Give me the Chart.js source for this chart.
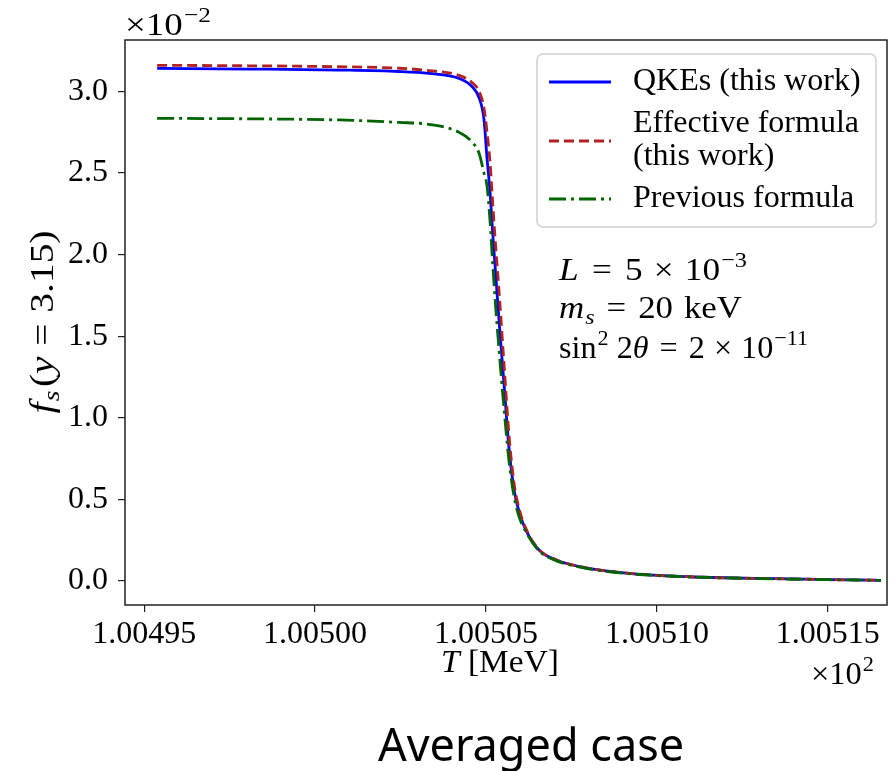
<!DOCTYPE html>
<html>
<head>
<meta charset="utf-8">
<script src="https://cdn.jsdelivr.net/npm/chart.js@4.4.1/dist/chart.umd.min.js"></script>
<style>
  body { margin: 0; background: #fff; }
  canvas { display: block; }
</style>
</head>
<body>
<canvas id="fsChart" width="894" height="771"></canvas>
<script>
// temperature T (in units of 10^2 MeV)
const temps = [
  1.0049538, 1.0049807, 1.0050070, 1.0050246, 1.0050333, 1.0050421,
  1.0050459, 1.0050480, 1.0050494, 1.0050503, 1.0050512, 1.0050520,
  1.0050529, 1.0050538, 1.0050553, 1.0050567, 1.0050582, 1.0050596,
  1.0050617, 1.0050655, 1.0050705, 1.0050801, 1.0050918, 1.0051094,
  1.0051298, 1.0051503, 1.0051655
];
// f_s(y = 3.15) in units of 10^-2
const qkes = [
  3.141, 3.137, 3.131, 3.122, 3.110, 3.080,
  3.030, 2.960, 2.830, 2.590, 2.380, 2.120,
  1.860, 1.600, 1.200, 0.820, 0.560, 0.430,
  0.310, 0.190, 0.129, 0.078, 0.047, 0.026,
  0.016, 0.009, 0.004
];
const effective = [
  3.160, 3.157, 3.151, 3.142, 3.128, 3.098,
  3.055, 3.000, 2.900, 2.750, 2.560, 2.300,
  2.030, 1.780, 1.320, 0.900, 0.600, 0.450,
  0.320, 0.192, 0.130, 0.078, 0.047, 0.026,
  0.016, 0.009, 0.004
];
const previous = [
  2.835, 2.832, 2.825, 2.810, 2.798, 2.750,
  2.690, 2.620, 2.500, 2.420, 2.200, 1.930,
  1.660, 1.420, 1.050, 0.740, 0.520, 0.400,
  0.300, 0.185, 0.125, 0.075, 0.045, 0.025,
  0.015, 0.008, 0.004
];
const xTicks = [1.00495, 1.00500, 1.00505, 1.00510, 1.00515];
const yTicks = [0.0, 0.5, 1.0, 1.5, 2.0, 2.5, 3.0];

const serif = '"Liberation Serif", "DejaVu Serif", serif';

function pts(ys) {
  return temps.map((t, i) => ({ x: t, y: ys[i] }));
}

// parts: [text, italic, size, dy, gapBefore]
function setFont(ctx, p) {
  ctx.font = (p[1] ? 'italic ' : '') + (p[2] || 32) + 'px ' + serif;
}
function richWidth(ctx, parts) {
  let w = 0;
  parts.forEach(p => { setFont(ctx, p); w += (p[4] || 0) + ctx.measureText(p[0]).width; });
  return w;
}
// draw a row of text pieces, stretched to width w if given; align 'left' | 'center' | 'right'
function rich(ctx, x, y, parts, w, align) {
  const nat = richWidth(ctx, parts);
  const sx = w ? w / nat : 1;
  const full = nat * sx;
  const x0 = align === 'center' ? x - full / 2 : align === 'right' ? x - full : x;
  ctx.save();
  ctx.translate(x0, y);
  ctx.scale(sx, 1);
  ctx.textAlign = 'left';
  ctx.textBaseline = 'alphabetic';
  let cx = 0;
  parts.forEach(p => {
    setFont(ctx, p);
    cx += p[4] || 0;
    ctx.fillText(p[0], cx, p[3] || 0);
    cx += ctx.measureText(p[0]).width;
  });
  ctx.restore();
}

const extras = {
  id: 'extras',
  afterDraw(chart) {
    const ctx = chart.ctx;
    const a = chart.chartArea;
    ctx.save();
    // frame
    ctx.strokeStyle = '#222';
    ctx.lineWidth = 1.5;
    ctx.strokeRect(a.left, a.top, a.right - a.left, a.bottom - a.top);

    ctx.fillStyle = '#000';

    // offset labels
    rich(ctx, 125, 35, [['×10'], ['−2', 0, 22, -13, 1]], 86, 'left');
    rich(ctx, 874, 684, [['×10'], ['2', 0, 22, -13, 1]], 63, 'right');

    // x title
    rich(ctx, 500, 672, [['T', 1], ['[MeV]', 0, 32, 0, 8]], 118, 'center');

    // y title
    ctx.save();
    ctx.translate(53, 322);
    ctx.rotate(-Math.PI / 2);
    rich(ctx, 0, 0, [['f', 1, 33], ['s', 1, 23, 6, 1], ['(', 0, 33, 0, 3], ['y', 1, 33],
      ['=', 0, 33, 0, 9], ['3.15)', 0, 33, 0, 9]], 183, 'center');
    ctx.restore();

    // parameters
    rich(ctx, 559, 280, [['L', 1], ['=', 0, 32, 0, 12], ['5', 0, 32, 0, 12], ['×', 0, 32, 0, 10],
      ['10', 0, 32, 0, 10], ['−3', 0, 22, -13, 1]], 188, 'left');
    rich(ctx, 559, 318, [['m', 1], ['s', 1, 22, 6, 1], ['=', 0, 32, 0, 11], ['20', 0, 32, 0, 11],
      ['keV', 0, 32, 0, 10]], 183, 'left');
    rich(ctx, 559, 358, [['sin'], ['2', 0, 22, -13, 1], ['2', 0, 32, 0, 8], ['θ', 1],
      ['=', 0, 32, 0, 11], ['2', 0, 32, 0, 11], ['×', 0, 32, 0, 9], ['10', 0, 32, 0, 9],
      ['−11', 0, 22, -13, 1]], 249, 'left');

    // legend
    ctx.beginPath();
    ctx.roundRect(537, 54, 339, 173, 6);
    ctx.fillStyle = 'rgba(255,255,255,0.8)';
    ctx.fill();
    ctx.strokeStyle = '#d0d0d0';
    ctx.lineWidth = 1.5;
    ctx.stroke();
    const rows = [
      { ds: 0, ly: 82, lines: [['QKEs (this work)', 82]] },
      { ds: 1, ly: 141, lines: [['Effective formula', 124], ['(this work)', 157]] },
      { ds: 2, ly: 199, lines: [['Previous formula', 199]] }
    ];
    rows.forEach(r => {
      const d = chart.data.datasets[r.ds];
      ctx.beginPath();
      ctx.setLineDash(d.borderDash || []);
      ctx.strokeStyle = d.borderColor;
      ctx.lineWidth = d.borderWidth;
      ctx.moveTo(549, r.ly);
      ctx.lineTo(611, r.ly);
      ctx.stroke();
      ctx.setLineDash([]);
      ctx.fillStyle = '#000';
      ctx.font = '32px ' + serif;
      ctx.textAlign = 'left';
      ctx.textBaseline = 'middle';
      r.lines.forEach(l => ctx.fillText(l[0], 633, l[1]));
    });

    // caption
    ctx.font = '45px "Noto Sans", sans-serif';
    ctx.textBaseline = 'alphabetic';
    ctx.textAlign = 'center';
    ctx.fillText('Averaged case', 531, 761);
    ctx.restore();
  }
};

new Chart(document.getElementById('fsChart'), {
  type: 'line',
  data: {
    datasets: [
      { label: 'QKEs (this work)', data: pts(qkes), borderColor: '#0000ff',
        borderWidth: 2.8, order: 3 },
      { label: 'Effective formula (this work)', data: pts(effective), borderColor: '#b22222',
        borderWidth: 2.8, borderDash: [10, 5], order: 2 },
      { label: 'Previous formula', data: pts(previous), borderColor: '#006400',
        borderWidth: 2.8, borderDash: [17, 5, 3, 5], order: 1 }
    ]
  },
  options: {
    responsive: false,
    animation: false,
    layout: { padding: { top: 40, right: 7, left: 0, bottom: 0 } },
    elements: {
      point: { radius: 0 },
      line: { cubicInterpolationMode: 'monotone', fill: false }
    },
    plugins: { legend: { display: false }, tooltip: { enabled: false } },
    scales: {
      x: {
        type: 'linear',
        min: 1.0049444,
        max: 1.0051673,
        afterBuildTicks: s => { s.ticks = xTicks.map(v => ({ value: v })); },
        afterFit: s => { s.height = 166; },
        grid: { drawOnChartArea: false, tickLength: 7, color: '#222', lineWidth: 1.2 },
        border: { display: false },
        ticks: {
          padding: 3, color: '#000',
          font: { family: serif, size: 32 },
          maxRotation: 0,
          callback: v => v.toFixed(5)
        }
      },
      y: {
        min: -0.147,
        max: 3.315,
        afterBuildTicks: s => { s.ticks = yTicks.map(v => ({ value: v })); },
        afterFit: s => { s.width = 125; },
        grid: { drawOnChartArea: false, tickLength: 7, color: '#222', lineWidth: 1.2 },
        border: { display: false },
        ticks: {
          padding: 10, color: '#000',
          font: { family: serif, size: 32 },
          callback: v => v.toFixed(1)
        }
      }
    }
  },
  plugins: [extras]
});
</script>
</body>
</html>
